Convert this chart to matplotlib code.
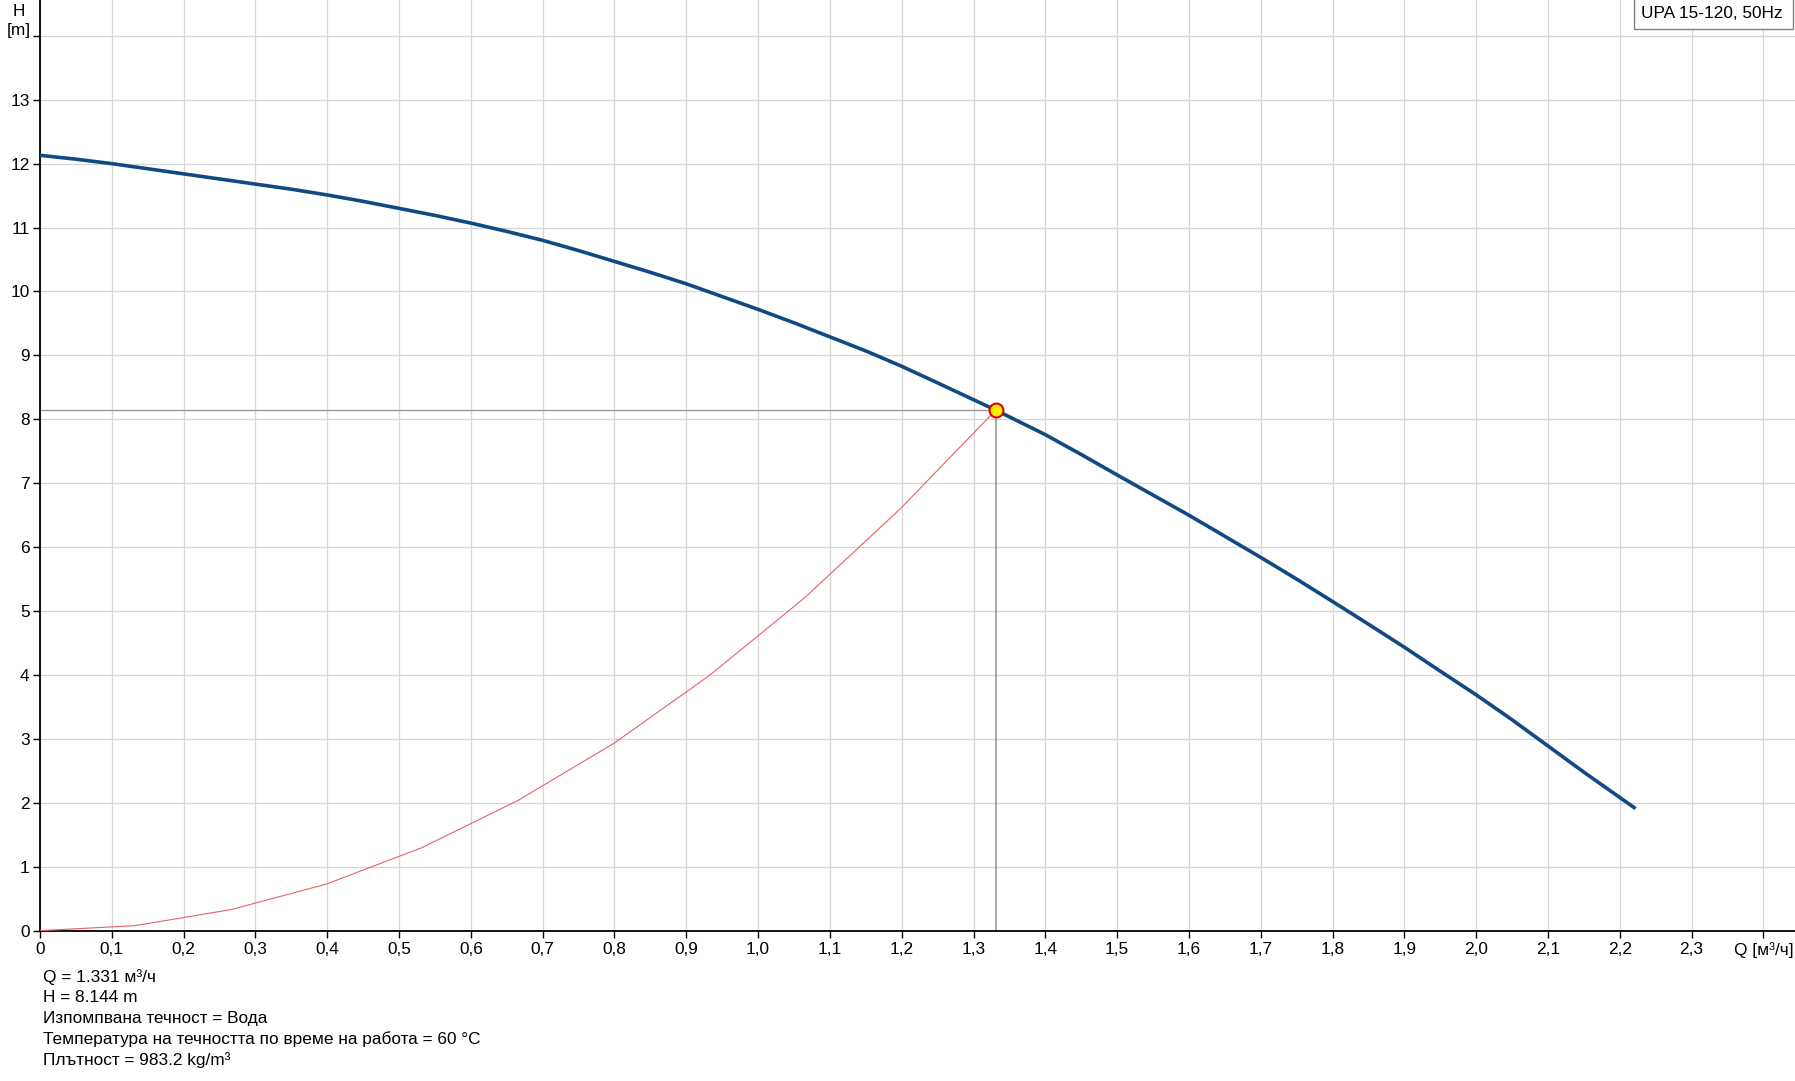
import matplotlib
matplotlib.use("Agg")
import matplotlib.pyplot as plt
import matplotlib.patches as patches
import numpy as np

plt.rcParams["font.family"] = ["Liberation Sans", "DejaVu Sans"]

# pump curve (Q in m3/h, H in m)
q_pump = [0.0, 0.05, 0.1, 0.15, 0.2, 0.25, 0.3, 0.35, 0.4, 0.45, 0.5, 0.55,
          0.6, 0.65, 0.7, 0.75, 0.8, 0.85, 0.9, 0.95, 1.0, 1.05, 1.1, 1.15,
          1.2, 1.25, 1.331, 1.4, 1.45, 1.5, 1.55, 1.6, 1.65, 1.7, 1.75, 1.8,
          1.85, 1.9, 1.95, 2.0, 2.05, 2.1, 2.15, 2.222]
h_pump = [12.13, 12.07, 12.0, 11.92, 11.84, 11.76, 11.68, 11.60, 11.51, 11.41,
          11.30, 11.19, 11.07, 10.94, 10.80, 10.64, 10.47, 10.30, 10.12, 9.92,
          9.72, 9.51, 9.29, 9.07, 8.83, 8.57, 8.144, 7.76, 7.45, 7.13, 6.815,
          6.50, 6.17, 5.84, 5.50, 5.15, 4.795, 4.435, 4.06, 3.69, 3.30, 2.89,
          2.48, 1.91]

# system curve (polyline through the duty point)
q_sys = [0.0, 0.133, 0.266, 0.399, 0.532, 0.666, 0.799, 0.932, 1.065, 1.198, 1.331]
h_sys = [0.0, 0.08, 0.33, 0.73, 1.30, 2.04, 2.93, 3.99, 5.21, 6.60, 8.144]

# duty point
q_duty = 1.331
h_duty = 8.144

x_ticks = [0.0, 0.1, 0.2, 0.3, 0.4, 0.5, 0.6, 0.7, 0.8, 0.9, 1.0, 1.1, 1.2,
           1.3, 1.4, 1.5, 1.6, 1.7, 1.8, 1.9, 2.0, 2.1, 2.2, 2.3, 2.4]
x_tick_labels = ["0", "0,1", "0,2", "0,3", "0,4", "0,5", "0,6", "0,7", "0,8",
                 "0,9", "1,0", "1,1", "1,2", "1,3", "1,4", "1,5", "1,6", "1,7",
                 "1,8", "1,9", "2,0", "2,1", "2,2", "2,3", "Q [м³/ч]"]
y_ticks = [0, 1, 2, 3, 4, 5, 6, 7, 8, 9, 10, 11, 12, 13, 14]
y_tick_labels = ["0", "1", "2", "3", "4", "5", "6", "7", "8", "9", "10",
                 "11", "12", "13", ""]

info_lines = [
    "Q = 1.331 м³/ч",
    "H = 8.144 m",
    "Изпомпвана течност = Вода",
    "Температура на течността по време на работа = 60 °C",
    "Плътност = 983.2 kg/m³",
]
title_box = "UPA 15-120, 50Hz"

FS = 12.4
W, H = 1795, 1081
fig = plt.figure(figsize=(W / 100, H / 100), dpi=100)
ax = fig.add_axes([40 / W, (H - 930.7) / H, 1 - 40 / W, 930.7 / H])

ax.set_xlim(0, 2.444)
ax.set_ylim(0, 14.56)

ax.set_xticks(x_ticks)
ax.set_xticklabels(x_tick_labels)
ax.set_yticks(y_ticks)
ax.set_yticklabels(y_tick_labels)
ax.tick_params(axis="both", length=5, width=1, labelsize=FS, pad=3,
               color="black", labelcolor="black")
ax.tick_params(axis="y", pad=2.5)

for side in ["top", "right"]:
    ax.spines[side].set_visible(False)
for side in ["left", "bottom"]:
    ax.spines[side].set_linewidth(1.3)
    ax.spines[side].set_color("black")

ax.grid(True, color="#d6d6d6", linewidth=0.9)
ax.set_axisbelow(True)

# guide lines to the duty point
ax.plot([0, q_duty], [h_duty, h_duty], color="#9a9a9a", lw=1.0, zorder=2)
ax.plot([q_duty, q_duty], [0, h_duty], color="#8f8f8f", lw=1.1, zorder=2)

ax.plot(q_sys, h_sys, color="#e8606a", lw=0.8, zorder=3)
ax.plot(q_pump, h_pump, color="#114a82", lw=2.6, zorder=4,
        solid_capstyle="butt", solid_joinstyle="round")
ax.plot([q_duty], [h_duty], "o", ms=10, mfc="#ffee00", mec="#e00000",
        mew=1.5, zorder=5)

# axis unit label on top of y axis
fig.text(19 / W, 1 - 38 / H, "H\n[m]", ha="center", va="bottom",
         fontsize=FS, linespacing=1.3)

# info text below the chart
y0 = 976.7
for i, line in enumerate(info_lines):
    fig.text(43 / W, 1 - (y0 + i * 20.8) / H, line, ha="left", va="center",
             fontsize=FS)

# model label box (top right)
box = patches.Rectangle((1634 / W, 1 - 29 / H), (1793 - 1634) / W, 29 / H + 0.01,
                        transform=fig.transFigure, facecolor="white",
                        edgecolor="#808080", linewidth=1, zorder=10)
fig.patches.append(box)
fig.text(1641 / W, 1 - 14 / H, title_box, ha="left", va="center",
         fontsize=FS, zorder=11)

fig.savefig("out.png", dpi=100)
plt.close(fig)
